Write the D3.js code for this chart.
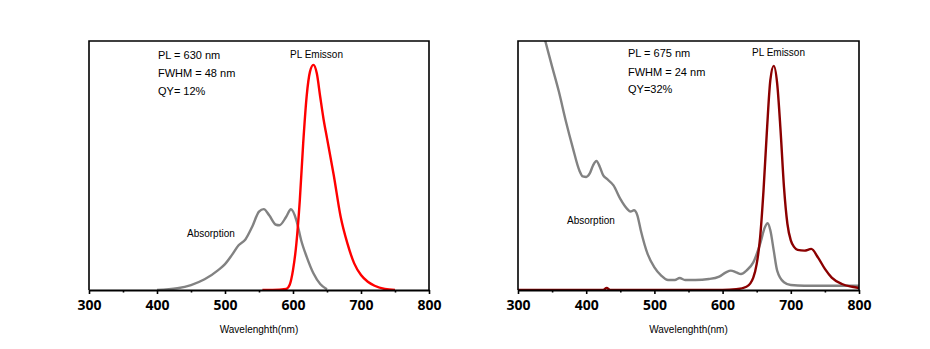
<!DOCTYPE html>
<html>
<head>
<meta charset="utf-8">
<script src="https://cdn.jsdelivr.net/npm/d3@7"></script>
<style>
  html, body { margin: 0; padding: 0; background: #fff; }
  svg { display: block; }
</style>
</head>
<body>
<svg id="chart" width="930" height="349"></svg>
<script>
// ---- Data (wavelength nm, normalized intensity) ----
const xTicks = [300, 400, 500, 600, 700, 800];
const minorTicks = [350, 450, 550, 650, 750];

const leftAbsX = [400, 430, 450, 470, 490, 500, 510, 520, 530, 540, 550, 557, 565, 575, 580, 590, 597, 605, 612, 620, 630, 640, 650];
const leftAbsY = [0.0, 0.007, 0.02, 0.043, 0.08, 0.104, 0.14, 0.18, 0.203, 0.254, 0.315, 0.325, 0.30, 0.262, 0.26, 0.294, 0.324, 0.28, 0.20, 0.134, 0.067, 0.024, 0.003];

const leftPLX = [555, 570, 590, 595, 600, 605, 610, 615, 620, 625, 630, 635, 640, 645, 650, 660, 670, 680, 690, 700, 710, 720, 735, 750];
const leftPLY = [0.0, 0.0, 0.004, 0.02, 0.08, 0.187, 0.36, 0.59, 0.776, 0.877, 0.904, 0.87, 0.776, 0.685, 0.61, 0.46, 0.295, 0.187, 0.107, 0.06, 0.033, 0.017, 0.004, 0.0];

const rightAbsX = [336, 340, 350, 360, 370, 380, 390, 395, 400, 405, 410, 415, 420, 425, 430, 440, 450, 460, 465, 470, 475, 480, 490, 500, 510, 520, 530, 537, 545, 560, 580, 595, 605, 612, 620, 627, 635, 645, 655, 662, 666, 670, 675, 680, 690, 700, 720, 800];
const rightAbsY = [1.04, 1.0, 0.897, 0.796, 0.68, 0.575, 0.48, 0.456, 0.454, 0.467, 0.50, 0.518, 0.494, 0.46, 0.447, 0.42, 0.366, 0.326, 0.315, 0.32, 0.30, 0.24, 0.145, 0.091, 0.058, 0.04, 0.04, 0.048, 0.04, 0.04, 0.044, 0.054, 0.071, 0.078, 0.071, 0.064, 0.078, 0.111, 0.185, 0.252, 0.268, 0.24, 0.158, 0.078, 0.031, 0.02, 0.017, 0.017];

const rightPLX = [300, 425, 430, 435, 600, 620, 635, 645, 650, 655, 660, 665, 670, 675, 680, 685, 690, 695, 700, 705, 710, 720, 730, 740, 750, 760, 775, 790, 800];
const rightPLY = [0.0, 0.0, 0.008, 0.0, 0.0, 0.003, 0.013, 0.05, 0.105, 0.21, 0.40, 0.64, 0.843, 0.90, 0.83, 0.64, 0.413, 0.266, 0.199, 0.172, 0.161, 0.158, 0.165, 0.13, 0.085, 0.05, 0.024, 0.013, 0.008];

const leftNotes = ["PL = 630 nm", "FWHM = 48 nm", "QY= 12%"];
const rightNotes = ["PL = 675 nm", "FWHM = 24 nm", "QY=32%"];
const xTitle = "Wavelenghth(nm)";

// ---- Drawing ----
const svg = d3.select("#chart");

function panel(cfg) {
  const g = svg.append("g");
  const x = d3.scaleLinear().domain([300, 800]).range([cfg.x0, cfg.x1]);
  const y = d3.scaleLinear().domain([0, 1]).range([cfg.yb, cfg.yt]);

  const clipId = "clip" + cfg.id;
  svg.append("clipPath").attr("id", clipId)
    .append("rect").attr("x", cfg.x0).attr("y", cfg.yt).attr("width", cfg.x1 - cfg.x0).attr("height", cfg.yb - cfg.yt);

  const line = d3.line().x(d => x(d[0])).y(d => y(d[1])).curve(d3.curveMonotoneX);

  const plot = g.append("g").attr("clip-path", `url(#${clipId})`);
  cfg.series.forEach(s => {
    plot.append("path")
      .datum(d3.zip(s.x, s.y))
      .attr("d", line)
      .attr("fill", "none")
      .attr("stroke", s.color)
      .attr("stroke-width", 2.4)
      .attr("stroke-linejoin", "round");
  });

  // frame: left, top, right
  g.append("path")
    .attr("d", `M${cfg.x0},${cfg.yb}V${cfg.yt}H${cfg.x1}V${cfg.yb}`)
    .attr("fill", "none").attr("stroke", "#000").attr("stroke-width", 1.6);

  // bottom axis
  const ax = g.append("g").attr("transform", `translate(0,${cfg.yb})`)
    .call(d3.axisBottom(x).tickValues(xTicks).tickSize(4).tickSizeOuter(0).tickPadding(6).tickFormat(d3.format("d")));
  ax.select(".domain").attr("stroke-width", 2);
  ax.selectAll(".tick line").attr("stroke-width", 1.6);
  ax.selectAll("text")
    .attr("font-family", "'Open Sans', 'DejaVu Sans', sans-serif")
    .attr("font-weight", "bold")
    .attr("font-size", 14)
    .attr("fill", "#000");
  g.append("g").attr("transform", `translate(0,${cfg.yb})`)
    .call(d3.axisBottom(x).tickValues(minorTicks).tickSize(2.5).tickFormat(""))
    .call(a => a.select(".domain").remove())
    .selectAll(".tick line").attr("stroke-width", 1.6);

  // axis title
  g.append("text")
    .attr("x", (cfg.x0 + cfg.x1) / 2).attr("y", 333)
    .attr("text-anchor", "middle")
    .attr("font-family", "Arial, 'Liberation Sans', sans-serif")
    .attr("font-size", 10).attr("fill", "#000")
    .text(xTitle);

  const font = "Arial, 'Liberation Sans', sans-serif";
  cfg.notes.forEach((t, i) => {
    g.append("text").attr("x", cfg.noteX).attr("y", cfg.noteY[i])
      .attr("font-family", font).attr("font-size", 11).attr("fill", "#000").text(t);
  });
  g.append("text").attr("x", cfg.plX).attr("y", cfg.plY)
    .attr("font-family", font).attr("font-size", 10).attr("fill", "#000").text("PL Emisson");
  g.append("text").attr("x", cfg.absX).attr("y", cfg.absY)
    .attr("font-family", font).attr("font-size", 10).attr("fill", "#000").text("Absorption");
}

panel({
  id: "L", x0: 89, x1: 429, yt: 41, yb: 290,
  series: [
    { x: leftAbsX, y: leftAbsY, color: "#828282" },
    { x: leftPLX, y: leftPLY, color: "#ff0000" }
  ],
  notes: leftNotes, noteX: 158, noteY: [59, 77, 95],
  plX: 290, plY: 58, absX: 187, absY: 237
});

panel({
  id: "R", x0: 518, x1: 859, yt: 41, yb: 290,
  series: [
    { x: rightAbsX, y: rightAbsY, color: "#828282" },
    { x: rightPLX, y: rightPLY, color: "#8b0000" }
  ],
  notes: rightNotes, noteX: 628, noteY: [57, 76, 93],
  plX: 752, plY: 56, absX: 567, absY: 224
});
</script>
</body>
</html>
